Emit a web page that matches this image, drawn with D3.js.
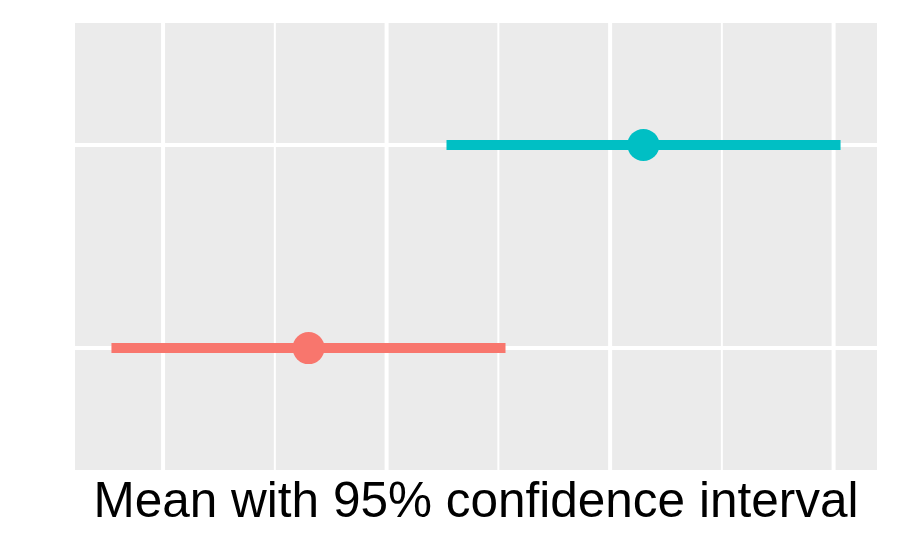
<!DOCTYPE html>
<html>
<head>
<meta charset="utf-8">
<script src="https://cdn.jsdelivr.net/npm/d3@7"></script>
<style>
  body { margin: 0; background: #fff; }
  svg { display: block; font-family: "Liberation Sans", Arial, sans-serif; }
</style>
</head>
<body>
<div id="chart"></div>
<script>
// groups, bottom to top
const groups = ["A", "B"];
const means = [1.651, 3.149];
const lowers = [0.769, 2.268];
const uppers = [2.532, 4.031];
const colors = ["#F8766D", "#00BFC4"];
const majorTicks = [1, 2, 3, 4];
const minorTicks = [1.5, 2.5, 3.5];
const xTitle = "Mean with 95% confidence interval";

const width = 900, height = 550;
const margin = { top: 23, right: 23, bottom: 80, left: 75 };
const innerW = width - margin.left - margin.right;
const innerH = height - margin.top - margin.bottom;

const svg = d3.select("#chart")
  .append("svg")
  .attr("width", width)
  .attr("height", height);

const g = svg.append("g")
  .attr("transform", "translate(" + margin.left + "," + margin.top + ")");

// x scale with ggplot style 5% expansion
const lo = d3.min(lowers), hi = d3.max(uppers);
const pad = (hi - lo) * 0.05;
const x = d3.scaleLinear().domain([lo - pad, hi + pad]).range([0, innerW]);

// discrete y with 0.6 unit expansion
const y = d3.scaleLinear().domain([0.4, groups.length + 0.6]).range([innerH, 0]);
const yPos = (i) => y(i + 1);

// panel background
g.append("rect")
  .attr("width", innerW)
  .attr("height", innerH)
  .attr("fill", "#EBEBEB");

// minor grid
g.selectAll(".minor")
  .data(minorTicks)
  .join("line")
  .attr("class", "minor")
  .attr("x1", d => x(d)).attr("x2", d => x(d))
  .attr("y1", 0).attr("y2", innerH)
  .attr("stroke", "#fff")
  .attr("stroke-width", 2);

// major grid
g.selectAll(".major")
  .data(majorTicks)
  .join("line")
  .attr("class", "major")
  .attr("x1", d => x(d)).attr("x2", d => x(d))
  .attr("y1", 0).attr("y2", innerH)
  .attr("stroke", "#fff")
  .attr("stroke-width", 4);

g.selectAll(".hgrid")
  .data(groups)
  .join("line")
  .attr("class", "hgrid")
  .attr("x1", 0).attr("x2", innerW)
  .attr("y1", (d, i) => yPos(i)).attr("y2", (d, i) => yPos(i))
  .attr("stroke", "#fff")
  .attr("stroke-width", 4);

// intervals
g.selectAll(".ci")
  .data(groups)
  .join("line")
  .attr("class", "ci")
  .attr("x1", (d, i) => x(lowers[i]))
  .attr("x2", (d, i) => x(uppers[i]))
  .attr("y1", (d, i) => yPos(i))
  .attr("y2", (d, i) => yPos(i))
  .attr("stroke", (d, i) => colors[i])
  .attr("stroke-width", 10);

// means
g.selectAll(".mean")
  .data(groups)
  .join("circle")
  .attr("class", "mean")
  .attr("cx", (d, i) => x(means[i]))
  .attr("cy", (d, i) => yPos(i))
  .attr("r", 16)
  .attr("fill", (d, i) => colors[i]);

// axis title
svg.append("text")
  .attr("x", margin.left + innerW / 2)
  .attr("y", 516.5)
  .attr("text-anchor", "middle")
  .attr("font-size", 49.5)
  .attr("fill", "#000")
  .text(xTitle);
</script>
</body>
</html>
